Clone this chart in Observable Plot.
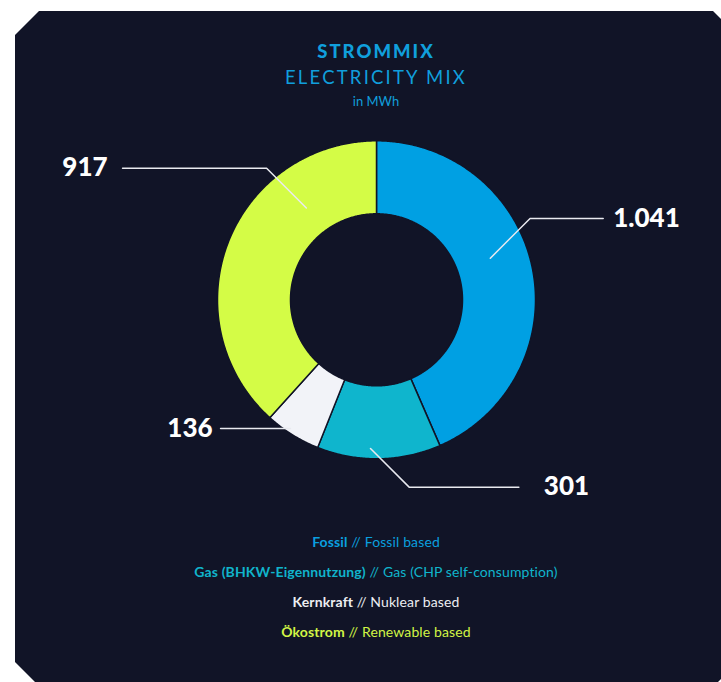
<!DOCTYPE html>
<html><head><meta charset="utf-8">
<script src="https://cdn.jsdelivr.net/npm/d3@7"></script>
<script src="https://cdn.jsdelivr.net/npm/@observablehq/plot@0.6"></script>
<style>
html,body{margin:0;padding:0;background:#ffffff;}
body{width:721px;height:682px;overflow:hidden;position:relative;font-family:Lato,"Open Sans",sans-serif;}
#card{position:absolute;left:0;top:0;width:721px;height:682px;background:#111427;
  clip-path:polygon(15px 35px,39px 11px,713px 11px,760px 58px,760px 640px,715px 685px,38px 685px,15px 662px);}
.t{position:absolute;left:15px;width:722px;text-align:center;white-space:nowrap;}
#t1{top:39px;line-height:24px;font-size:18.5px;font-weight:900;color:#109fdc;letter-spacing:2px;}
#t2{top:65px;line-height:24px;font-size:18.5px;font-weight:400;color:#109fdc;letter-spacing:2.2px;}
#t3{top:93px;line-height:16px;font-size:13px;font-weight:400;color:#109fdc;}
#chart{position:absolute;left:0;top:120px;}
.leg{line-height:20px;font-size:14px;font-weight:400;letter-spacing:0.12px;}
.leg b{font-weight:700;}
</style>
</head><body>
<div id="card"></div>
<div class="t" id="t1">STROMMIX</div>
<div class="t" id="t2">ELECTRICITY MIX</div>
<div class="t" id="t3">in MWh</div>
<div id="chart"></div>
<div id="legend"></div>
<script>
// ---- data ----
const categories = ["Fossil", "Gas (BHKW-Eigennutzung)", "Kernkraft", "Ökostrom"];
const englishNames = ["Fossil based", "Gas (CHP self-consumption)", "Nuklear based", "Renewable based"];
const values = [1041, 301, 136, 917];

// ---- styles ----
const palette = ["#00a0e3", "#0fb5cd", "#f2f3f8", "#d4fc46"];
const legendColors = ["#0a9fdf", "#10b4cc", "#eceef2", "#d2f545"];
const BG = "#111427";

// ---- layout (outer radius = 1 unit) ----
const PX = 159;                 // px per unit
const INNER = 86 / PX;
const W = 721, H = 400, CX = 376, CY = 179.3;
// leader placement relative to each slice (fraction through slice, radius, diagonal, horizontal run, label gap)
const leaderLayout = [
  {frac: 0.447, r: 0.762, dx: 1, dy: 1, diag: 0.25, run: 0.46, gap: 0.063},
  {frac: 0.571, r: 0.936, dx: 1, dy: -1, diag: 0.243, run: 0.69, gap: 0.157},
  {frac: 0.587, r: 0.974, dx: -1, dy: 0, diag: 0, run: 0.44, gap: 0.05},
  {frac: 0.729, r: 0.727, dx: -1, dy: 1, diag: 0.25, run: 0.906, gap: 0.094}
];

const rows = categories.map((name, i) => ({name, value: values[i]}));
const arcs = d3.pie().sort(null).value(d => d.value)(rows);

const ringPts = arcs.flatMap(p => {
  const n = Math.max(2, Math.ceil((p.endAngle - p.startAngle) / (Math.PI / 360)));
  const angs = d3.range(n + 1).map(i => p.startAngle + (p.endAngle - p.startAngle) * i / n);
  const pts = [];
  for (const a of angs) pts.push({name: p.data.name, x: Math.sin(a), y: Math.cos(a)});
  for (const a of angs.slice().reverse()) pts.push({name: p.data.name, x: INNER * Math.sin(a), y: INNER * Math.cos(a)});
  return pts;
});

const fmt = d3.formatLocale({decimal: ",", thousands: ".", grouping: [3], currency: ["", "€"]}).format(",");

const leaderPts = [];
const labels = [];
arcs.forEach((p, i) => {
  const L = leaderLayout[i];
  const a = p.startAngle + (p.endAngle - p.startAngle) * L.frac;
  const ax = L.r * Math.sin(a), ay = L.r * Math.cos(a);
  const ex = ax + L.dx * L.diag * (L.dy === 0 ? 0 : 1), ey = ay + L.dy * L.diag;
  const side = L.dx;
  const hx = ex + side * L.run;
  leaderPts.push({name: p.data.name, x: ax, y: ay});
  if (L.diag > 0) leaderPts.push({name: p.data.name, x: ex, y: ey});
  leaderPts.push({name: p.data.name, x: hx, y: ey});
  labels.push({text: fmt(p.data.value), x: hx + side * L.gap, y: ey, anchor: side > 0 ? "start" : "end"});
});

const chart = Plot.plot({
  width: W, height: H, margin: 0,
  x: {domain: [-CX / PX, (W - CX) / PX], range: [0, W], axis: null},
  y: {domain: [-(H - CY) / PX, CY / PX], range: [H, 0], axis: null},
  color: {domain: categories, range: palette},
  style: {background: "transparent", overflow: "visible"},
  marks: [
    Plot.line(ringPts, {x: "x", y: "y", z: "name", fill: "name", stroke: BG, strokeWidth: 1.5, curve: "linear-closed"}),
    Plot.line(leaderPts, {x: "x", y: "y", z: "name", stroke: "#e9eaf0", strokeWidth: 1.5, strokeLinejoin: "miter"}),
    Plot.text(labels.filter(d => d.anchor === "start"), {x: "x", y: "y", text: "text", textAnchor: "start", fill: "#ffffff", fontSize: 26, fontWeight: 900, fontFamily: "Lato"}),
    Plot.text(labels.filter(d => d.anchor === "end"), {x: "x", y: "y", text: "text", textAnchor: "end", fill: "#ffffff", fontSize: 26, fontWeight: 900, fontFamily: "Lato"})
  ]
});
document.getElementById("chart").appendChild(chart);

const legend = document.getElementById("legend");
categories.forEach((c, i) => {
  const d = document.createElement("div");
  d.className = "t leg";
  d.style.top = (532 + i * 30) + "px";
  d.style.color = legendColors[i];
  const b = document.createElement("b");
  b.textContent = c;
  d.appendChild(b);
  d.appendChild(document.createTextNode(" // " + englishNames[i]));
  legend.appendChild(d);
});
</script>
</body></html>
